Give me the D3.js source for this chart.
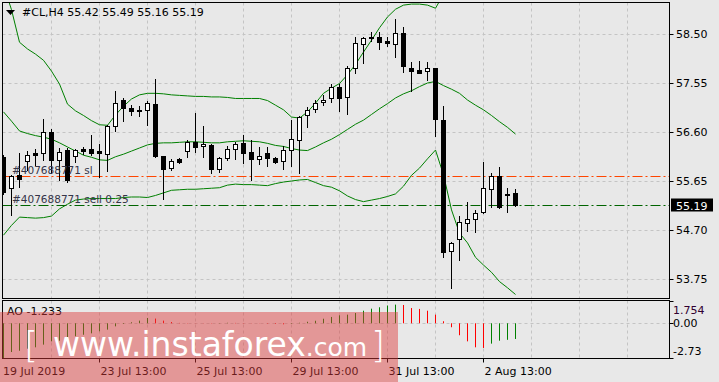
<!DOCTYPE html>
<html>
<head>
<meta charset="utf-8">
<script src="https://cdn.jsdelivr.net/npm/d3@7"></script>
<style>
    body { margin: 0; background: #e8e8e8; }
    svg text { font-family: "DejaVu Sans", sans-serif; }
</style>
</head>
<body>
<script>
// ! DATA ! //
const openPrices = [56.12, 55.51, 55.77, 56.04, 56.19, 56.19, 56.60, 56.06, 56.25, 56.13,
    56.27, 56.27, 56.23, 56.17, 56.72, 57.22, 57.06, 57.03, 57.03, 57.14,
    56.13, 55.90, 56.07, 56.24, 56.41, 56.32, 56.35, 55.88, 56.09, 56.28,
    56.39, 56.22, 56.07, 56.19, 56.09, 56.04, 56.26, 56.45, 56.93, 57.05,
    57.18, 57.25, 57.47, 57.27, 57.85, 58.31, 58.43, 58.44, 58.36, 58.31,
    58.51, 57.84, 57.80, 57.78, 57.84, 56.83, 54.30, 54.53, 54.83, 54.91,
    55.04, 55.49, 55.74, 55.40, 55.42];
const highPrices = [56.16, 55.77, 56.19, 56.23, 56.28, 56.85, 56.66, 56.29, 56.29, 56.27,
    56.30, 56.54, 56.37, 56.74, 57.40, 57.26, 57.12, 57.10, 57.20, 57.62,
    56.13, 56.07, 56.09, 56.45, 56.97, 56.72, 56.37, 56.12, 56.33, 56.41,
    56.54, 56.45, 56.30, 56.30, 56.11, 56.33, 56.83, 56.91, 57.09, 57.23,
    57.32, 57.53, 57.53, 57.88, 58.45, 58.45, 58.53, 58.53, 58.45, 58.80,
    58.63, 57.96, 57.98, 57.96, 57.85, 57.10, 54.47, 54.97, 55.25, 55.09,
    56.02, 55.81, 55.93, 55.52, 55.49];
const lowPrices = [55.40, 54.99, 55.53, 55.86, 55.96, 56.06, 55.81, 55.67, 55.63, 56.01,
    56.17, 56.15, 55.73, 55.85, 56.61, 56.82, 56.93, 56.91, 56.74, 56.12,
    55.31, 55.86, 55.99, 56.11, 56.22, 56.11, 55.80, 55.83, 56.06, 56.07,
    55.99, 55.66, 55.98, 55.94, 55.99, 55.88, 55.95, 55.81, 56.70, 56.99,
    57.12, 57.19, 57.01, 56.94, 57.75, 57.94, 58.37, 58.20, 58.27, 58.05,
    57.77, 57.40, 57.74, 57.60, 56.52, 54.18, 53.58, 54.12, 54.68, 54.67,
    55.03, 55.15, 55.13, 55.05, 55.16];
const closePrices = [55.44, 55.75, 55.69, 56.15, 56.16, 56.60, 56.06, 56.21, 55.66, 56.25,
    56.23, 56.20, 56.19, 56.72, 57.16, 57.06, 57.01, 57.01, 57.16, 56.13,
    55.88, 56.04, 56.02, 56.41, 56.30, 56.36, 55.89, 56.09, 56.28, 56.37,
    56.20, 56.07, 56.13, 56.10, 56.02, 56.26, 56.46, 56.90, 57.03, 57.16,
    57.23, 57.47, 57.25, 57.85, 58.32, 58.42, 58.44, 58.35, 58.32, 58.51,
    57.87, 57.78, 57.75, 57.85, 56.85, 54.27, 54.45, 54.86, 54.91, 55.02,
    55.51, 55.74, 55.15, 55.37, 55.19];

const bandUpper = [59.45, 58.97, 58.34, 58.21, 58.11, 57.99, 57.78, 57.53, 57.14, 57.01,
    56.92, 56.82, 56.74, 56.73, 56.93, 57.10, 57.24, 57.32, 57.35, 57.35,
    57.34, 57.32, 57.31, 57.30, 57.29, 57.29, 57.28, 57.28, 57.27, 57.25,
    57.25, 57.25, 57.25, 57.21, 57.12, 57.03, 56.89, 56.87, 56.99, 57.16,
    57.35, 57.45, 57.54, 57.71, 57.91, 58.15, 58.38, 58.62, 58.83, 58.98,
    59.06, 59.08, 59.08, 59.06, 59.00, 59.27, 59.62, 59.88, 59.93, 60.07,
    60.03, 59.92, 59.92, 59.80, 59.66];
const bandMiddle = [56.99, 56.81, 56.62, 56.57, 56.53, 56.50, 56.46, 56.39, 56.31, 56.23,
    56.15, 56.11, 56.06, 56.05, 56.12, 56.17, 56.23, 56.29, 56.35, 56.38,
    56.39, 56.39, 56.40, 56.41, 56.41, 56.40, 56.39, 56.39, 56.41, 56.42,
    56.43, 56.42, 56.41, 56.38, 56.34, 56.32, 56.28, 56.25, 56.24, 56.31,
    56.39, 56.46, 56.55, 56.65, 56.75, 56.83, 56.94, 57.05, 57.15, 57.26,
    57.34, 57.40, 57.48, 57.55, 57.58, 57.50, 57.43, 57.35, 57.22, 57.12,
    57.03, 56.92, 56.80, 56.69, 56.56];
const bandLower = [54.60, 54.79, 54.95, 54.94, 54.93, 54.94, 54.97, 55.11, 55.20, 55.28,
    55.30, 55.31, 55.31, 55.31, 55.31, 55.33, 55.34, 55.34, 55.33, 55.37,
    55.42, 55.47, 55.48, 55.49, 55.49, 55.50, 55.51, 55.52, 55.57, 55.59,
    55.58, 55.58, 55.57, 55.56, 55.60, 55.63, 55.65, 55.67, 55.68, 55.62,
    55.56, 55.53, 55.46, 55.36, 55.29, 55.25, 55.28, 55.31, 55.35, 55.40,
    55.55, 55.76, 55.90, 56.08, 56.25, 55.77, 55.09, 54.64, 54.45, 54.17,
    54.02, 53.88, 53.70, 53.58, 53.45];

const aoValues = [-2.73, -2.26, -2.16, -2.00, -1.89, -1.68, -1.42, -1.37, -1.21, -1.02,
    -0.90, -0.79, -0.63, -0.50, -0.24, -0.05, 0.08, 0.21, 0.42, 0.37,
    0.21, 0.10, 0.03, 0.02, 0.01, -0.01, -0.02, 0.02, 0.04, 0.03,
    0.02, 0.01, -0.01, -0.03, -0.05, -0.08, -0.04, 0.04, 0.12, 0.20,
    0.36, 0.50, 0.63, 0.68, 0.81, 0.99, 1.15, 1.26, 1.40, 1.47,
    1.44, 1.20, 1.13, 0.99, 0.68, 0.16, -0.31, -0.94, -1.42, -1.89,
    -1.94, -1.60, -1.37, -1.30, -1.233];

const priceTicks = [58.50, 57.55, 56.60, 55.65, 54.70, 53.75];
const aoTickLabels = ["1.754", "0.00", "-2.73"];
const aoTickValues = [1.754, 0, -2.73];
const dateLabels = ["19 Jul 2019", "23 Jul 13:00", "25 Jul 13:00", "29 Jul 13:00", "31 Jul 13:00", "2 Aug 13:00"];
const dateBars = [0, 12, 24, 36, 48, 60];

const headerText = "#CL,H4  55.42 55.49 55.16 55.19";
const aoText = "AO -1.233";
const slPrice = 55.75;
const sellPrice = 55.18;
const slText = "#407688771 sl";
const sellText = "#407688771 sell 0.25";
const lastPrice = 55.19;

// ! LAYOUT ! //
const dims = { width: 719, height: 382, left: 2.5, right: 669.5, top: 2.5, bottom: 298.5, aoTop: 300.5, aoBottom: 358.5 };
const gridColor = "#c4c4c4";
const bandColor = "#008000";

const crisp = (v) => Math.round(v) + 0.5;

const xScale = d3.scaleLinear().domain([0, 1]).range([3.5, 11.5]);
const yScale = d3.scaleLinear().domain([53.75, 58.5]).range([279, 34]);
const aoScale = d3.scaleLinear().domain([-2.73, 1.754]).range([358, 301]);

const svg = d3.select("body").append("svg").attr("width", dims.width).attr("height", dims.height);

const defs = svg.append("defs");
defs.append("clipPath").attr("id", "mainClip").append("rect")
    .attr("x", dims.left + 0.5).attr("y", dims.top + 0.5)
    .attr("width", dims.right - dims.left - 1).attr("height", dims.bottom - dims.top - 1);
defs.append("clipPath").attr("id", "aoClip").append("rect")
    .attr("x", dims.left + 0.5).attr("y", dims.aoTop + 0.5)
    .attr("width", dims.right - dims.left - 1).attr("height", dims.aoBottom - dims.aoTop - 1);

// ^ GRID ^ //
const gridBars = d3.range(6, 84, 6);
const mainGrid = svg.append("g").attr("clip-path", "url(#mainClip)");
mainGrid.selectAll("line.v").data(gridBars).enter().append("line")
    .attr("x1", (d) => xScale(d)).attr("x2", (d) => xScale(d))
    .attr("y1", dims.top).attr("y2", dims.bottom)
    .attr("stroke", gridColor).attr("stroke-dasharray", "3,3");
mainGrid.selectAll("line.h").data(priceTicks).enter().append("line")
    .attr("x1", dims.left).attr("x2", dims.right)
    .attr("y1", (d) => crisp(yScale(d))).attr("y2", (d) => crisp(yScale(d)))
    .attr("stroke", gridColor).attr("stroke-dasharray", "3,3");

const aoGrid = svg.append("g").attr("clip-path", "url(#aoClip)");
aoGrid.selectAll("line.v").data(gridBars).enter().append("line")
    .attr("x1", (d) => xScale(d)).attr("x2", (d) => xScale(d))
    .attr("y1", dims.aoTop).attr("y2", dims.aoBottom)
    .attr("stroke", gridColor).attr("stroke-dasharray", "3,3");
aoGrid.append("line")
    .attr("x1", dims.left).attr("x2", dims.right)
    .attr("y1", crisp(aoScale(0))).attr("y2", crisp(aoScale(0)))
    .attr("stroke", gridColor).attr("stroke-dasharray", "3,3");

// ^ BOLLINGER BANDS ^ //
const bandLine = d3.line().x((d, i) => xScale(i)).y((d) => yScale(d));
const bandGroup = svg.append("g").attr("clip-path", "url(#mainClip)");
[bandUpper, bandMiddle, bandLower].forEach((band) => {
    bandGroup.append("path").attr("d", bandLine(band))
        .attr("fill", "none").attr("stroke", bandColor).attr("stroke-width", 1);
});

// ^ ORDER LEVELS ^ //
const levelGroup = svg.append("g").attr("clip-path", "url(#mainClip)");
levelGroup.append("line")
    .attr("x1", dims.left).attr("x2", dims.right)
    .attr("y1", crisp(yScale(slPrice))).attr("y2", crisp(yScale(slPrice)))
    .attr("stroke", "#ff4500").attr("stroke-dasharray", "10,3,2,3");
levelGroup.append("line")
    .attr("x1", dims.left).attr("x2", dims.right)
    .attr("y1", crisp(yScale(sellPrice))).attr("y2", crisp(yScale(sellPrice)))
    .attr("stroke", "#006400").attr("stroke-dasharray", "10,3,2,3");

// ^ CANDLES ^ //
const candleData = openPrices.map((o, i) => ({ i, o, h: highPrices[i], l: lowPrices[i], c: closePrices[i] }));
const candles = svg.append("g").attr("clip-path", "url(#mainClip)")
    .selectAll("g").data(candleData).enter().append("g");
candles.append("line")
    .attr("x1", (d) => xScale(d.i)).attr("x2", (d) => xScale(d.i))
    .attr("y1", (d) => Math.round(yScale(d.h))).attr("y2", (d) => Math.round(yScale(d.l)) + 1)
    .attr("stroke", "#000");
candles.append("rect")
    .attr("x", (d) => xScale(d.i) - 2)
    .attr("y", (d) => crisp(yScale(Math.max(d.o, d.c))))
    .attr("width", 4)
    .attr("height", (d) => crisp(yScale(Math.min(d.o, d.c))) - crisp(yScale(Math.max(d.o, d.c))))
    .attr("fill", (d) => (d.c >= d.o ? "#fff" : "#000"))
    .attr("stroke", "#000");

// ^ ORDER LABELS ^ //
svg.append("text").attr("x", 12).attr("y", crisp(yScale(slPrice)) - 3)
    .attr("font-size", 10.5).attr("fill", "#353548").text(slText);
svg.append("text").attr("x", 12).attr("y", crisp(yScale(sellPrice)) - 3)
    .attr("font-size", 10.5).attr("fill", "#353548").text(sellText);

// ^ AO HISTOGRAM ^ //
svg.append("g").attr("clip-path", "url(#aoClip)")
    .selectAll("line").data(aoValues).enter().append("line")
    .attr("x1", (d, i) => xScale(i)).attr("x2", (d, i) => xScale(i))
    .attr("y1", aoScale(0)).attr("y2", (d) => aoScale(d))
    .attr("stroke", (d, i) => (i === 0 || d > aoValues[i - 1] ? "#008000" : "#ff0000"))
    .attr("stroke-width", 1);

// ^ PANEL BORDERS ^ //
svg.append("rect").attr("x", dims.left).attr("y", dims.top)
    .attr("width", dims.right - dims.left).attr("height", dims.bottom - dims.top)
    .attr("fill", "none").attr("stroke", "#000");
svg.append("rect").attr("x", dims.left).attr("y", dims.aoTop)
    .attr("width", dims.right - dims.left).attr("height", dims.aoBottom - dims.aoTop)
    .attr("fill", "none").attr("stroke", "#000");

// ^ HEADER ^ //
svg.append("path").attr("d", "M6,10 L15,10 L10.5,15 Z").attr("fill", "#000");
svg.append("text").attr("x", 22).attr("y", 16).attr("font-size", 11).attr("fill", "#000").text(headerText);
svg.append("text").attr("x", 7).attr("y", 315).attr("font-size", 11).attr("fill", "#000").text(aoText);

// ^ PRICE AXIS ^ //
const priceAxis = svg.append("g");
priceAxis.selectAll("line").data(priceTicks).enter().append("line")
    .attr("x1", dims.right).attr("x2", dims.right + 4)
    .attr("y1", (d) => crisp(yScale(d))).attr("y2", (d) => crisp(yScale(d)))
    .attr("stroke", "#000");
priceAxis.selectAll("text").data(priceTicks).enter().append("text")
    .attr("x", 676).attr("y", (d) => yScale(d) + 4)
    .attr("font-size", 11).attr("fill", "#000")
    .text((d) => d3.format(".2f")(d));

const lastY = crisp(yScale(lastPrice));
svg.append("rect").attr("x", 671).attr("y", lastY - 7).attr("width", 42).attr("height", 13).attr("fill", "#000");
svg.append("text").attr("x", 676).attr("y", lastY + 4).attr("font-size", 11).attr("fill", "#fff").text(d3.format(".2f")(lastPrice));

// ^ AO AXIS ^ //
const aoAxis = svg.append("g");
aoAxis.selectAll("line").data(aoTickValues).enter().append("line")
    .attr("x1", dims.right).attr("x2", dims.right + 4)
    .attr("y1", (d) => crisp(aoScale(d))).attr("y2", (d) => crisp(aoScale(d)))
    .attr("stroke", "#000");
aoAxis.selectAll("text").data(aoTickLabels).enter().append("text")
    .attr("x", 673)
    .attr("y", (d, i) => [314, 327, 355][i])
    .attr("font-size", 11).attr("fill", (d, i) => (i === 0 ? "#300030" : "#000"))
    .text((d) => d);

// ^ TIME AXIS ^ //
const timeAxis = svg.append("g");
timeAxis.selectAll("line").data(dateBars.slice(1)).enter().append("line")
    .attr("x1", (d) => xScale(d)).attr("x2", (d) => xScale(d))
    .attr("y1", dims.aoBottom).attr("y2", dims.aoBottom + 4)
    .attr("stroke", "#000");
timeAxis.selectAll("text").data(dateLabels).enter().append("text")
    .attr("x", (d, i) => (i === 0 ? 3 : xScale(dateBars[i]) + 1))
    .attr("y", 375).attr("font-size", 11).attr("fill", "#000")
    .text((d) => d);

// ^ WATERMARK ^ //
const mark = svg.append("g");
mark.append("rect").attr("x", 0).attr("y", 312).attr("width", 398).attr("height", 70)
    .attr("fill", "rgba(220,60,60,0.47)");
mark.append("text").attr("x", 24).attr("y", 357).attr("font-size", 36).attr("fill", "#fff")
    .attr("font-weight", 200).text("[");
const markText = mark.append("text").attr("x", 53).attr("y", 356).attr("fill", "#fff");
markText.append("tspan").attr("font-size", 33).text("www.instaforex");
markText.append("tspan").attr("font-size", 25).text(".com");
mark.append("text").attr("x", 371).attr("y", 357).attr("font-size", 36).attr("fill", "#fff")
    .attr("font-weight", 200).text("]");
</script>
</body>
</html>
